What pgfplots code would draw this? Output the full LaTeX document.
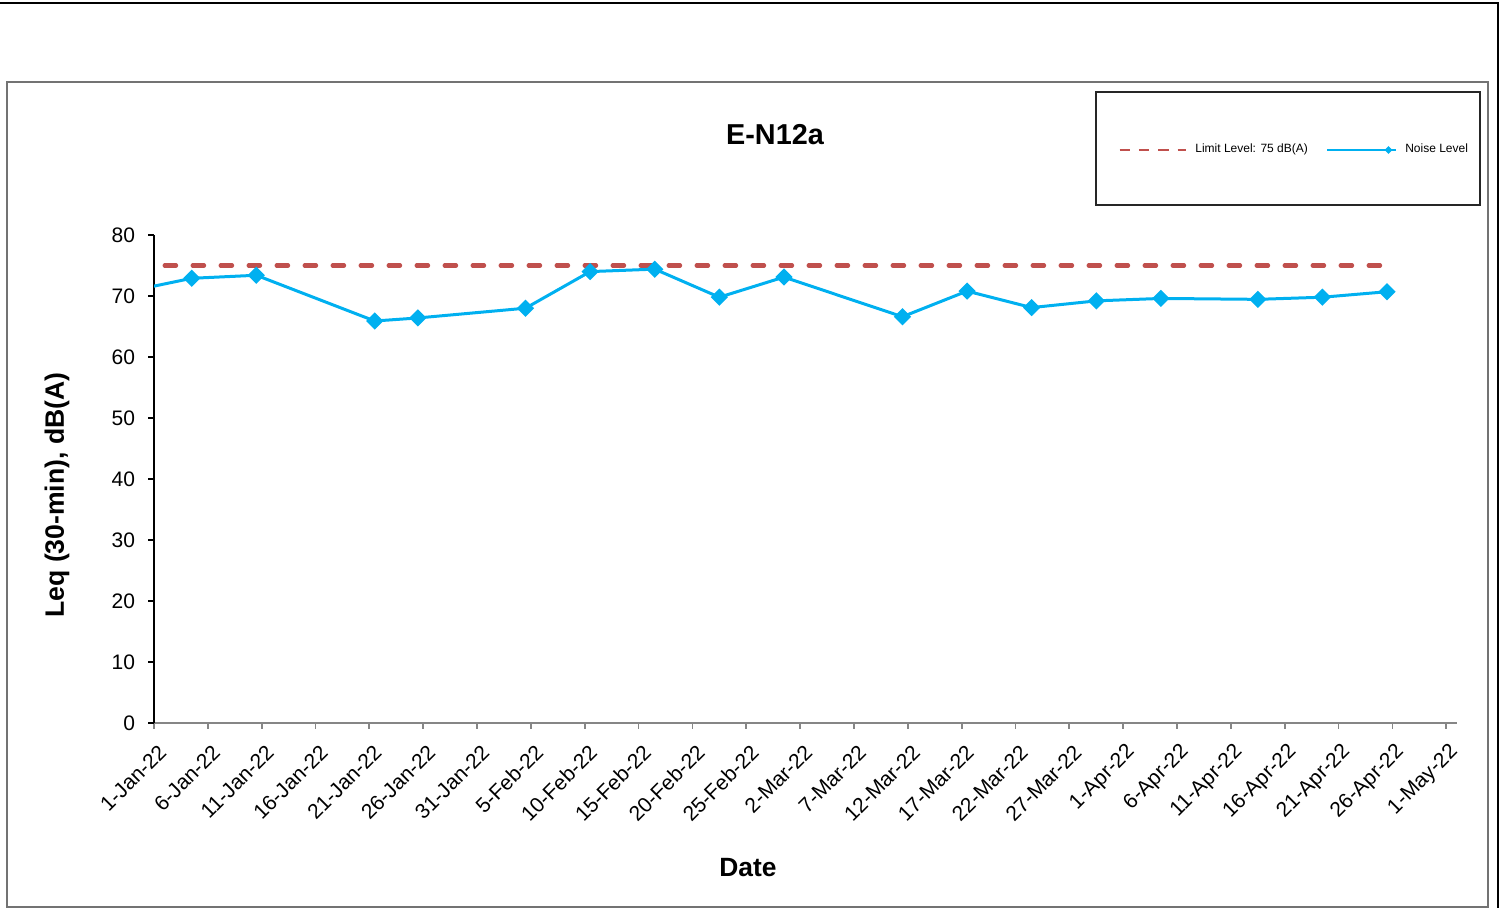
\documentclass[border=0pt]{standalone}
\usepackage{fontspec}
\setmainfont{Liberation Sans}
\usepackage{pgfplots}
\usepackage{pgfplotstable}
\pgfplotsset{compat=1.18}
\definecolor{noise}{HTML}{00B0F0}
\definecolor{limit}{HTML}{C0504D}
\definecolor{axgray}{HTML}{868686}

\pgfplotstableread{
day level
3.5 72.9
9.5 73.4
20.5 65.9
24.5 66.4
34.5 68.0
40.5 74.0
46.5 74.4
52.5 69.8
58.5 73.1
69.5 66.6
75.5 70.8
81.5 68.1
87.5 69.2
93.5 69.6
102.5 69.45
108.5 69.8
114.5 70.7
}\noisedata

\begin{document}
\begin{tikzpicture}
\begin{scope}[x=0.5pt,y=0.5pt]
\useasboundingbox (0,0) rectangle (1505,908);
\draw[black, line width=1.3pt] (0,905) -- (1498,905) -- (1498,0);
\draw[black!55, line width=0.9pt] (7,826) rectangle (1488,1);
\draw[black!85, line width=0.6pt] (1096,816) rectangle (1480,703);
\node[font=\bfseries\fontsize{14.4}{17}\selectfont] at (775,773) {E-N12a};
\node[font=\bfseries\fontsize{13.2}{16}\selectfont] at (748,40) {Date};
\node[font=\bfseries\fontsize{13.3}{16}\selectfont, rotate=90] at (57,413) {Leq (30-min), dB(A)};
\end{scope}
\begin{axis}[
  at={(77pt,92.5pt)}, anchor=south west,
  scale only axis, width=651.5pt, height=244pt,
  xmin=0, xmax=121, ymin=0, ymax=80,
  axis x line=bottom, axis y line=left,
  x axis line style={-, draw=axgray, line width=0.9pt},
  y axis line style={-, draw=black, line width=0.6pt},
  xtick={0,5,...,120}, ytick={0,10,...,80},
  xticklabels={1-Jan-22,6-Jan-22,11-Jan-22,16-Jan-22,21-Jan-22,26-Jan-22,31-Jan-22,5-Feb-22,10-Feb-22,15-Feb-22,20-Feb-22,25-Feb-22,2-Mar-22,7-Mar-22,12-Mar-22,17-Mar-22,22-Mar-22,27-Mar-22,1-Apr-22,6-Apr-22,11-Apr-22,16-Apr-22,21-Apr-22,26-Apr-22,1-May-22},
  tick align=outside, major tick length=3pt,
  xtick style={draw=axgray, line width=0.9pt},
  ytick style={draw=black, line width=0.6pt},
  xticklabel style={rotate=45, anchor=east, font=\fontsize{10.5}{12}\selectfont, xshift=-0.5pt, yshift=-10pt},
  yticklabel style={font=\fontsize{10.5}{12}\selectfont, xshift=-3pt},
  /pgf/number format/assume math mode=true,
  clip=true,
  legend columns=2,
  legend style={at={(0.7383,1.1742)}, anchor=west, draw=none, fill=none,
    font=\fontsize{6}{7}\selectfont, inner xsep=0pt, inner ysep=0pt,
    /tikz/every odd column/.append style={column sep=2pt},
    /tikz/every even column/.append style={column sep=7pt}},
]
\addplot[limit, line width=2.15pt, dash pattern=on 5.67pt off 8.33pt, dash phase=8.65pt, line cap=round,
  legend image code/.code={\draw[limit, line width=1pt, dash pattern=on 5.2pt off 4.5pt, line cap=butt] (0pt,0pt) -- (34.5pt,0pt);}]
  coordinates {(0,75) (114.5,75)};
\addlegendentry{Limit Level: 75 dB(A)}
\addplot[noise, line width=1.5pt, mark=square*, mark size=2.3pt, mark options={rotate=45, solid},
  legend image code/.code={\draw[noise, line width=1.2pt] (0pt,0pt) -- (34.5pt,0pt); \fill[noise] (17.25pt,0pt) +(0,0.9pt) -- +(0.9pt,0) -- +(0,-0.9pt) -- +(-0.9pt,0) -- cycle;}]
  table[x=day,y=level] {\noisedata};
\addlegendentry{Noise Level}
\addplot[noise, line width=1.5pt, forget plot] coordinates {(-2.5,70.7) (3.5,72.9)};
\end{axis}
\end{tikzpicture}
\end{document}
